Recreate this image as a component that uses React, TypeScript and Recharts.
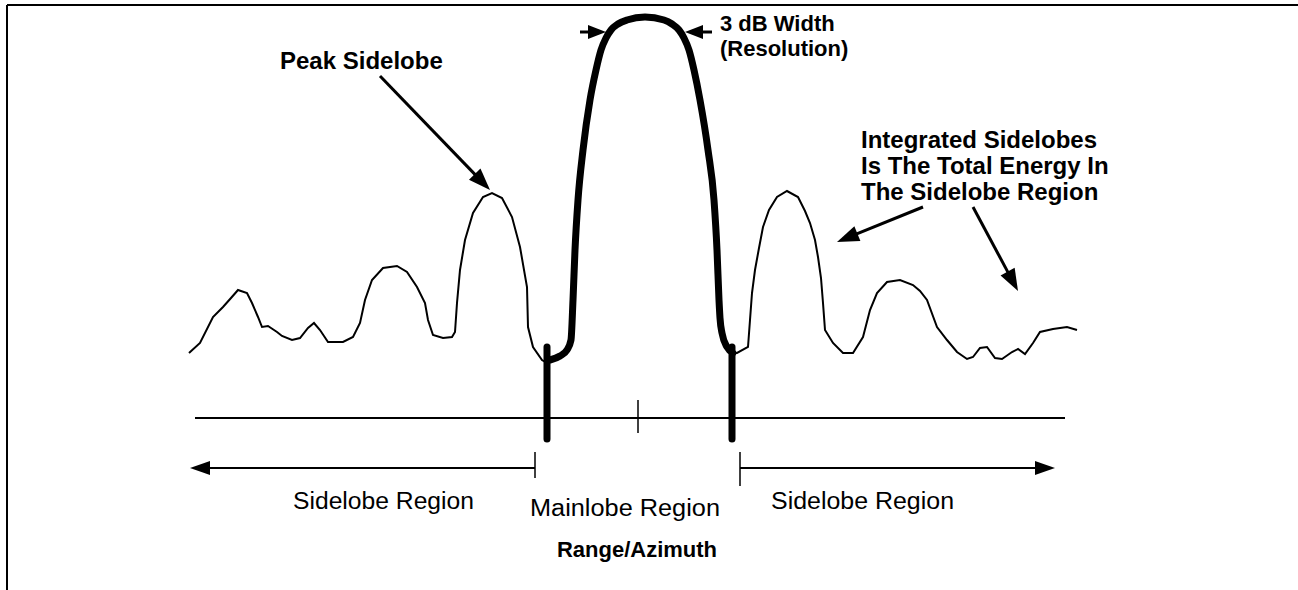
import React from "react";
import { ComposedChart, Line, XAxis, YAxis, ReferenceLine, Customized } from "recharts";

// position along range/azimuth (x) and response level above the axis line (y)
const leftSidelobes = [
  { x: 189, y: 65 }, { x: 200, y: 75 }, { x: 213, y: 101 }, { x: 223, y: 111 },
  { x: 231, y: 120 }, { x: 238, y: 128 }, { x: 247, y: 125 }, { x: 252, y: 115 },
  { x: 258, y: 101 }, { x: 262, y: 91 }, { x: 268, y: 92 }, { x: 277, y: 86 },
  { x: 282, y: 82 }, { x: 292, y: 78 }, { x: 300, y: 80 }, { x: 308, y: 90 },
  { x: 314, y: 95 }, { x: 320, y: 88 }, { x: 328, y: 76 }, { x: 343, y: 76 },
  { x: 353, y: 81 }, { x: 360, y: 95 }, { x: 365, y: 118 }, { x: 372, y: 138 },
  { x: 383, y: 150 }, { x: 397, y: 152 }, { x: 407, y: 146 }, { x: 417, y: 131 },
  { x: 425, y: 115 }, { x: 428, y: 98 }, { x: 433, y: 83 }, { x: 443, y: 80 },
  { x: 452, y: 81 }, { x: 455, y: 86 }, { x: 457, y: 115 }, { x: 460, y: 148 },
  { x: 465, y: 178 }, { x: 473, y: 205 }, { x: 483, y: 221 }, { x: 492, y: 225 },
  { x: 502, y: 220 }, { x: 512, y: 201 }, { x: 520, y: 171 }, { x: 527, y: 131 },
  { x: 528, y: 91 }, { x: 533, y: 71 }, { x: 542, y: 58 }, { x: 547, y: 55 },
];

const mainlobe = [
  { x: 550, y: 58 }, { x: 560, y: 62 }, { x: 567, y: 68 }, { x: 571, y: 78 },
  { x: 573, y: 118 }, { x: 575, y: 168 }, { x: 578, y: 218 }, { x: 583, y: 268 },
  { x: 590, y: 318 }, { x: 596, y: 348 }, { x: 601, y: 368 }, { x: 606, y: 380 },
  { x: 611, y: 388 }, { x: 618, y: 394 }, { x: 627, y: 398 }, { x: 645, y: 401 },
  { x: 664, y: 398 }, { x: 672, y: 394 }, { x: 679, y: 388 }, { x: 684, y: 380 },
  { x: 689, y: 368 }, { x: 694, y: 348 }, { x: 700, y: 318 }, { x: 708, y: 268 },
  { x: 714, y: 218 }, { x: 717, y: 168 }, { x: 719, y: 118 }, { x: 720, y: 100 },
  { x: 722, y: 85 }, { x: 727, y: 71 }, { x: 733, y: 65 },
];

const rightSidelobes = [
  { x: 733, y: 65 }, { x: 737, y: 65 }, { x: 748, y: 71 }, { x: 750, y: 98 },
  { x: 752, y: 125 }, { x: 755, y: 148 }, { x: 759, y: 170 }, { x: 763, y: 191 },
  { x: 769, y: 208 }, { x: 777, y: 221 }, { x: 787, y: 227 }, { x: 798, y: 221 },
  { x: 805, y: 207 }, { x: 810, y: 195 }, { x: 815, y: 178 }, { x: 818, y: 161 },
  { x: 821, y: 140 }, { x: 823, y: 115 }, { x: 825, y: 88 }, { x: 833, y: 75 },
  { x: 843, y: 65 }, { x: 853, y: 65 }, { x: 863, y: 81 }, { x: 870, y: 108 },
  { x: 877, y: 125 }, { x: 887, y: 136 }, { x: 900, y: 138 }, { x: 913, y: 133 },
  { x: 920, y: 127 }, { x: 927, y: 118 }, { x: 937, y: 91 }, { x: 947, y: 78 },
  { x: 957, y: 66 }, { x: 967, y: 59 }, { x: 973, y: 61 }, { x: 980, y: 70 },
  { x: 987, y: 71 }, { x: 995, y: 60 }, { x: 1002, y: 59 }, { x: 1012, y: 66 },
  { x: 1018, y: 69 }, { x: 1025, y: 64 }, { x: 1033, y: 75 }, { x: 1040, y: 86 },
  { x: 1053, y: 89 }, { x: 1067, y: 91 }, { x: 1077, y: 88 },
];

const axisStart = 195;
const axisEnd = 1065;
const center = 638;
const mainlobeEdges = [547, 732];
const regionSplits = [535, 740];
const regionArrowEnds = [190, 1055];

const FONT = "'Liberation Sans', Arial, Helvetica, sans-serif";

const arrow = (head: number, half: number) => (props: any) => {
  const { x1, y1, x2, y2, stroke, strokeWidth } = props;
  const dx = x2 - x1;
  const dy = y2 - y1;
  const len = Math.hypot(dx, dy) || 1;
  const ux = dx / len;
  const uy = dy / len;
  const bx = x2 - ux * head;
  const by = y2 - uy * head;
  const px = -uy * half;
  const py = ux * half;
  return (
    <g>
      <line x1={x1} y1={y1} x2={bx + ux * 2} y2={by + uy * 2} stroke={stroke} strokeWidth={strokeWidth} />
      <polygon points={`${x2},${y2} ${bx + px},${by + py} ${bx - px},${by - py}`} fill={stroke} />
    </g>
  );
};

const Labels = () => (
  <g fontFamily={FONT} fill="#000">
    <text x={280} y={69} fontSize={24} fontWeight="bold">Peak Sidelobe</text>
    <text x={720} y={31} fontSize={22} fontWeight="bold">3 dB Width</text>
    <text x={720} y={56} fontSize={22} fontWeight="bold">(Resolution)</text>
    <text x={861} y={148} fontSize={24} fontWeight="bold">Integrated Sidelobes</text>
    <text x={861} y={174} fontSize={24} fontWeight="bold">Is The Total Energy In</text>
    <text x={861} y={200} fontSize={24} fontWeight="bold">The Sidelobe Region</text>
    <text x={293} y={509} fontSize={23} textLength={181} lengthAdjust="spacingAndGlyphs">Sidelobe Region</text>
    <text x={530} y={516} fontSize={23} textLength={190} lengthAdjust="spacingAndGlyphs">Mainlobe Region</text>
    <text x={771} y={509} fontSize={23} textLength={183} lengthAdjust="spacingAndGlyphs">Sidelobe Region</text>
    <text x={637} y={557} fontSize={22} fontWeight="bold" textAnchor="middle">Range/Azimuth</text>
  </g>
);

export default function App() {
  return (
    <div style={{ position: "absolute", left: 0, top: 0, background: "#fff" }}>
      <ComposedChart width={1298} height={590} margin={{ top: 0, right: 0, bottom: 0, left: 0 }}>
        <XAxis type="number" dataKey="x" domain={[0, 1298]} allowDataOverflow hide />
        <YAxis type="number" dataKey="y" domain={[-172, 418]} allowDataOverflow hide />

        {/* frame */}
        <ReferenceLine segment={[{ x: 7, y: 413 }, { x: 1298, y: 413 }]} stroke="#000" strokeWidth={2} />
        <ReferenceLine segment={[{ x: 7, y: 413 }, { x: 7, y: -172 }]} stroke="#000" strokeWidth={2} />

        {/* axis line and markers */}
        <ReferenceLine segment={[{ x: axisStart, y: 0 }, { x: axisEnd, y: 0 }]} stroke="#000" strokeWidth={2} />
        <ReferenceLine segment={[{ x: center, y: 18 }, { x: center, y: -15 }]} stroke="#000" strokeWidth={1.5} />
        {mainlobeEdges.map((e) => (
          <ReferenceLine key={e} segment={[{ x: e, y: 71 }, { x: e, y: -21 }]} stroke="#000" strokeWidth={7} strokeLinecap="round" />
        ))}

        <Line data={leftSidelobes} dataKey="y" type="linear" stroke="#000" strokeWidth={2} dot={false} activeDot={false} isAnimationActive={false} />
        <Line data={rightSidelobes} dataKey="y" type="linear" stroke="#000" strokeWidth={2} dot={false} activeDot={false} isAnimationActive={false} />
        <Line data={mainlobe} dataKey="y" type="monotone" stroke="#000" strokeWidth={7} strokeLinecap="round" dot={false} activeDot={false} isAnimationActive={false} />

        {/* region arrows */}
        <ReferenceLine segment={[{ x: regionSplits[0], y: -50 }, { x: regionArrowEnds[0], y: -50 }]} stroke="#000" strokeWidth={2} shape={arrow(20, 7)} />
        <ReferenceLine segment={[{ x: regionSplits[1], y: -50 }, { x: regionArrowEnds[1], y: -50 }]} stroke="#000" strokeWidth={2} shape={arrow(20, 7)} />
        <ReferenceLine segment={[{ x: regionSplits[0], y: -34 }, { x: regionSplits[0], y: -60 }]} stroke="#000" strokeWidth={1.5} />
        <ReferenceLine segment={[{ x: regionSplits[1], y: -34 }, { x: regionSplits[1], y: -68 }]} stroke="#000" strokeWidth={1.5} />

        {/* annotation arrows */}
        <ReferenceLine segment={[{ x: 380, y: 342 }, { x: 490, y: 228 }]} stroke="#000" strokeWidth={3} shape={arrow(22, 8)} />
        <ReferenceLine segment={[{ x: 580, y: 386 }, { x: 606, y: 386 }]} stroke="#000" strokeWidth={3} shape={arrow(18, 7)} />
        <ReferenceLine segment={[{ x: 712, y: 386 }, { x: 685, y: 386 }]} stroke="#000" strokeWidth={3} shape={arrow(18, 7)} />
        <ReferenceLine segment={[{ x: 923, y: 211 }, { x: 837, y: 176 }]} stroke="#000" strokeWidth={3} shape={arrow(22, 8)} />
        <ReferenceLine segment={[{ x: 973, y: 211 }, { x: 1018, y: 127 }]} stroke="#000" strokeWidth={3} shape={arrow(22, 8)} />

        <Customized component={Labels} />
      </ComposedChart>
    </div>
  );
}
